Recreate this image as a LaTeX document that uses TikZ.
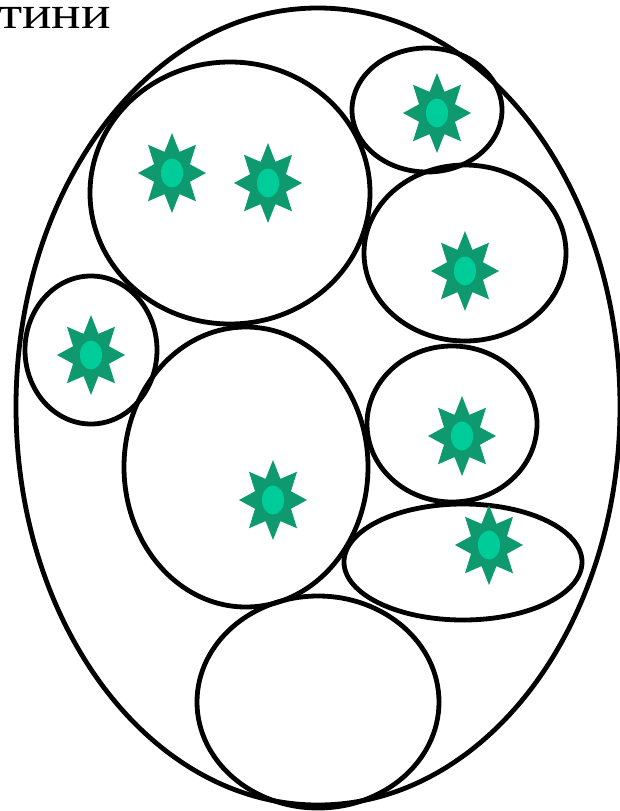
\documentclass[tikz,border=0pt]{standalone}
\usepackage{fontspec}
\setmainfont{Liberation Serif}
\usetikzlibrary{shapes.geometric, positioning}
\definecolor{stardark}{HTML}{0E9A6E}
\definecolor{starlight}{HTML}{00CC99}
\tikzstyle{cell} = [draw=black, line width=4.8pt]
\tikzstyle{spike} = [star, star points=8, star point ratio=1.75, minimum size=80pt, inner sep=0pt, xscale=0.85, transform shape, fill=stardark]
\tikzstyle{core} = [ellipse, minimum width=22pt, minimum height=29pt, inner sep=0pt, fill=starlight]
\newcommand{\cellstar}[2]{%
  \node (#1s) [spike] at (#2) {};
  \node (#1c) [core] at (#2) {};
}

\begin{document}
\begin{tikzpicture}[x=1pt, y=-1pt]
            \useasboundingbox (0,0) rectangle (619,811);
            % Label
            \node (title) [anchor=base east, inner sep=0pt, xscale=1.2, transform shape, font=\fontsize{46}{50}\selectfont] at (111,28) {тини};

            % Cells
            \draw [cell] (318,406.5) ellipse [x radius=302, y radius=398.5];
            \draw [cell] (230,193) ellipse [x radius=140, y radius=131];
            \draw [cell] (427,110) ellipse [x radius=75, y radius=62];
            \draw [cell] (465,253) ellipse [x radius=101, y radius=88];
            \draw [cell] (91,350) ellipse [x radius=66, y radius=74];
            \draw [cell] (246,467) ellipse [x radius=122, y radius=140];
            \draw [cell] (452,424) ellipse [x radius=85, y radius=78];
            \draw [cell] (463,562) ellipse [x radius=119, y radius=58];
            \draw [cell] (318,702) ellipse [x radius=121, y radius=106];

            % Stars
            \cellstar{a}{172,173}
            \cellstar{b}{268,183}
            \cellstar{c}{437,113}
            \cellstar{d}{465,271}
            \cellstar{e}{91,355}
            \cellstar{f}{462,436}
            \cellstar{g}{273,500}
            \cellstar{h}{489,545}
        \end{tikzpicture}
\end{document}
